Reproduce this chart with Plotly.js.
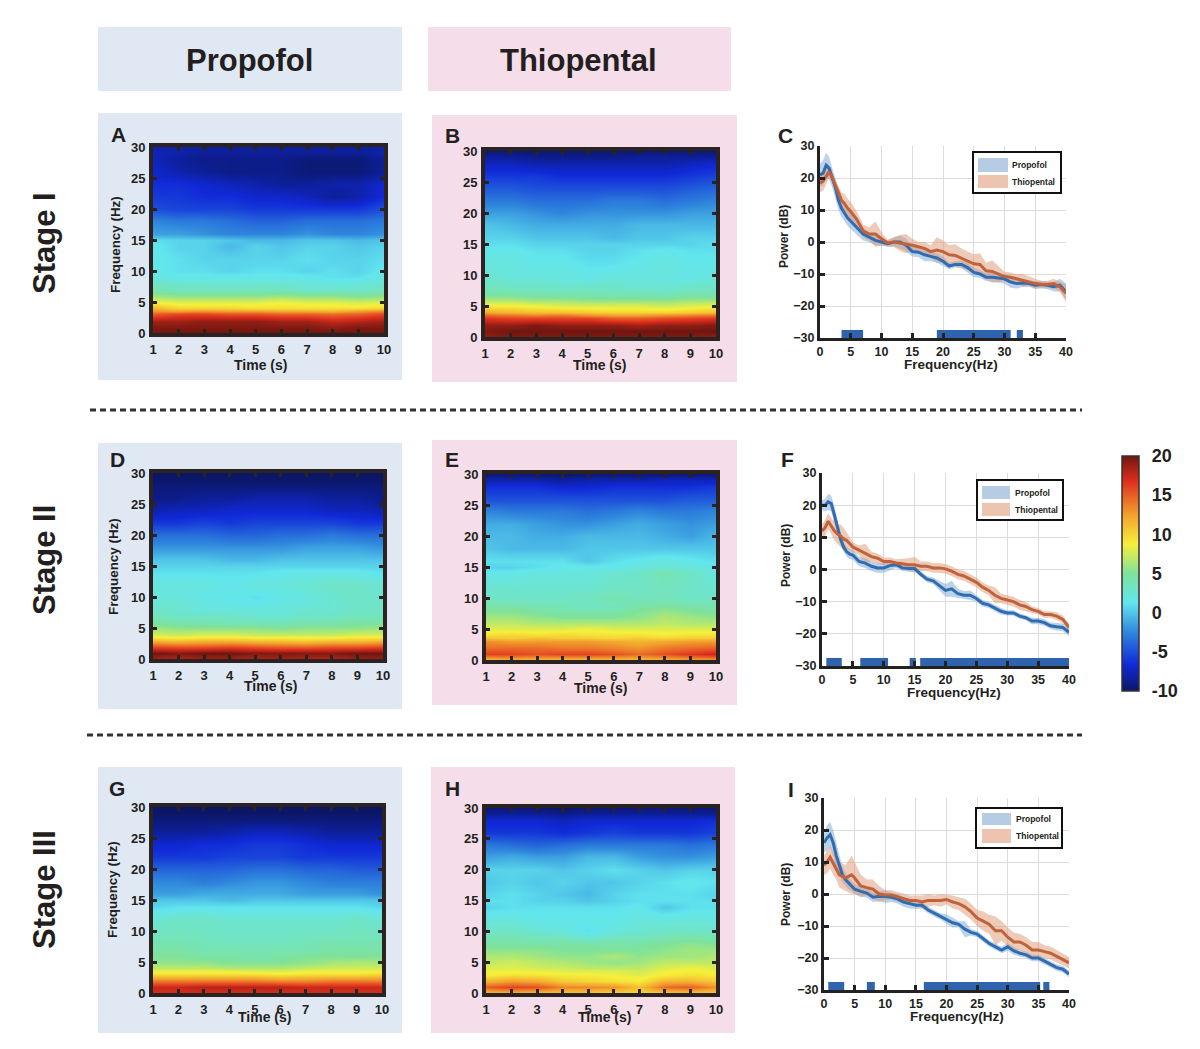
<!DOCTYPE html>
<html><head><meta charset="utf-8">
<script src="https://cdn.plot.ly/plotly-3.0.1.min.js"></script>
<style>html,body{margin:0;padding:0;background:#fff}#chart{width:1200px;height:1049px}</style>
</head><body><div id="chart"></div>
<script>
const timeTicks=[1,2,3,4,5,6,7,8,9,10];
const heatFreqs=[0,1,2,3,3.5,4,5,6,7,8,9,10,12,14,15,16,18,20,22,24,26,28,29,30];
const heatA=[
[20,20,20,20,20,20,20,20,20,20],
[19.5,19.5,19.5,19.5,19.5,19.5,19.5,19,19.5,19.5],
[18.5,18.5,19,19,19,18.5,18.5,17.5,18,18.5],
[15,16,16,15.5,15.5,15,15,14.5,15,16],
[13,12.5,13,12.5,12.5,12,12,11.5,12.5,13.5],
[11.5,10,10,10,9.5,9.5,9.5,9.5,9.5,10],
[8.5,8,8,8,8,8.5,8,8,7.5,8],
[6,5.5,5.5,5.5,5.5,6,5.5,5.5,5,5.5],
[4,3.5,3.5,3.5,3.5,3.5,3,3,3,3.5],
[3,2.5,2.5,2.5,2.5,2.5,2,2,2,2.5],
[2,1.5,1.5,1.5,1.5,1.5,1.5,1,1,2],
[1.5,1,1,0.5,1,1,0.5,1,0.5,1.5],
[1.5,1,0.5,0.5,0.5,0.5,1,0.5,0.5,1],
[1.5,0.5,0.5,-0.5,0.5,0,0.5,0.5,0,0.5],
[1,0.5,0.5,0,-0.5,-0.5,0,0,-0.5,0],
[-1.5,-1.5,-2,-2.5,-2.5,-2.5,-2,-2.5,-2.5,-2],
[-2.5,-3,-3,-3.5,-4,-4,-3.5,-3.5,-3.5,-3],
[-5,-5.5,-5.5,-5.5,-6,-6,-6,-6,-6,-5],
[-6,-6,-6.5,-6.5,-7,-7,-7.5,-8.5,-8,-6.5],
[-6.5,-6.5,-7,-7.5,-8,-8.5,-8.5,-8,-8,-7],
[-7,-8,-8.5,-9,-9,-9,-9.5,-9.5,-9.5,-8.5],
[-7.5,-8.5,-9,-9,-9,-9,-9.5,-9.5,-9.5,-8.5],
[-7.5,-8,-8.5,-8.5,-8.5,-8.5,-8.5,-8.5,-8.5,-8],
[-8,-8,-8.5,-8.5,-8.5,-8.5,-8.5,-8.5,-8.5,-8]];
const heatB=[
[19,19.5,19.5,19.5,19.5,19.5,19.5,19.5,19.5,19],
[19.5,20,20,20,20,20,20,20,20,20],
[19,19,19.5,19,19,19,18.5,19,19,19.5],
[16.5,16,16,16,16,15,15,15.5,16,16.5],
[14.5,14,13.5,14,13,12.5,12.5,13,13.5,14],
[12,11.5,11,11,10.5,10,10,10,10.5,11],
[9,9,8.5,8,8,8,8,7.5,8,8.5],
[6.5,6.5,6,6,5.5,5.5,5.5,5.5,6,6],
[4.5,4.5,4,4,4,3.5,4,3.5,4,4],
[3.5,3,3,3,3,3,2.5,2.5,3,3],
[3,2.5,2.5,2,2,2.5,2,2,2,2.5],
[2.5,2,2,2,1.5,2,2,2,1.5,2],
[2,2,1.5,1.5,1,1,1.5,2,1.5,1.5],
[1.5,1.5,1,1,0.5,0.5,1,1.5,1,1],
[1,1,0.5,0.5,0.5,0.5,0.5,0.5,0.5,1],
[0.5,0.5,0,0,0,-0.5,0,0,0.5,0.5],
[0,-0.5,-1,-1,-1,-1,-0.5,-0.5,-0.5,-0.5],
[-1.5,-1.5,-2,-2.5,-2,-2,-2,-2,-1.5,-1.5],
[-3,-3,-3.5,-3.5,-3.5,-3,-3,-3.5,-3,-2.5],
[-4.5,-4.5,-5,-5,-5,-5,-5,-5,-4.5,-4],
[-6,-6,-6,-6.5,-6.5,-6.5,-6.5,-6.5,-6,-5.5],
[-7.5,-7.5,-8,-8,-8,-8,-8,-8,-7.5,-7],
[-8.5,-8.5,-9,-9,-9,-9,-8.5,-8.5,-8.5,-8.5],
[-9.5,-9.5,-9.5,-9.5,-9.5,-9.5,-9.5,-9.5,-9.5,-9.5]];
const heatD=[
[18.5,18,18.5,18.5,18,18.5,18,18,18.5,19],
[20,19.5,20,20,19.5,19.5,19.5,19.5,20,20],
[16,15.5,15.5,16,15.5,15,15,15.5,15.5,16],
[11,10.5,11,11,10.5,10.5,10,10.5,10.5,11],
[9,8.5,9,9,8.5,8.5,8.5,8.5,9,9],
[7.5,7,7.5,7.5,7,7,7,7,7.5,7.5],
[6,5.5,5.5,5.5,5.5,5,5.5,5.5,5.5,6],
[4.5,4,4,3.5,3.5,3.5,4,4,4.5,4.5],
[3.5,3,3,3,2.5,2.5,3,3,3.5,3.5],
[3,2.5,2,2,2,2,2.5,2.5,3,3],
[2.5,2.5,2,1.5,1.5,2,2,2.5,3,3],
[2,2,1.5,1.5,1,1.5,2,2.5,3,2.5],
[2,2,2,1.5,2,2,2.5,3,3,2.5],
[1,1,1,1,1,1.5,1.5,1.5,1.5,1],
[0.5,0.5,0.5,0.5,0.5,0.5,0.5,0.5,0.5,0.5],
[0,0,0,-0.5,-0.5,0,0,0,0,0],
[-2,-2,-2,-2,-2,-2,-1.5,-1.5,-1.5,-2],
[-3.5,-3.5,-3.5,-4,-4,-3.5,-3.5,-3,-3.5,-3.5],
[-6,-6,-5.5,-6,-5.5,-5.5,-5.5,-5.5,-6,-6],
[-8,-7.5,-7.5,-7,-7,-7,-7,-7.5,-7.5,-8],
[-9,-9,-8.5,-8.5,-8,-8,-8,-8.5,-8.5,-9],
[-9.5,-9.5,-9.5,-9.5,-9.5,-9.5,-9.5,-9.5,-9.5,-9.5],
[-10,-10,-10,-10,-10,-10,-10,-10,-10,-10],
[-10,-10,-10,-10,-10,-10,-10,-10,-10,-10]];
const heatE=[
[11,11.5,11,11,11,11,11,11.5,12,12.5],
[16,16,15.5,16,16,15.5,14.5,15.5,16.5,17.5],
[14.5,14.5,14.5,14,14,13.5,13,14,14.5,15],
[13,12.5,12.5,12.5,12.5,12,11.5,12,12.5,12.5],
[11,10.5,11,10.5,10.5,10,10.5,10,10.5,10.5],
[9.5,10,9.5,10,9.5,9.5,9.5,9,9.5,9.5],
[8,8,8,8,8.5,8,8,8,8,8],
[7,7,6.5,6.5,6.5,6.5,6.5,7,6.5,6.5],
[6,6,5.5,5,5,5,5.5,6.5,6,5.5],
[5,5,4.5,4,4,4,5,5.5,5,4.5],
[4,4,3.5,3.5,3,3.5,4,4.5,4,4],
[3,3,3,3,3.5,4,3.5,3.5,3,3],
[2.5,2.5,2.5,2.5,2.5,3,3,3.5,3,2.5],
[1.5,1.5,2,2,2,2.5,3,4,3,2],
[0.5,0.5,1,1.5,1.5,1.5,2,2.5,2,1.5],
[1,1,1,1,0,1,1.5,2,1.5,1],
[0,-0.5,-0.5,-0.5,0,0,0,0,0,0],
[-0.5,-0.5,-1,-1,-0.5,-0.5,-0.5,-1,-1.5,-0.5],
[-1,-1,-1.5,-2,-2,-1.5,-1,-1.5,-2,-1.5],
[-2.5,-3,-3,-3,-3.5,-3,-2.5,-3,-3,-2.5],
[-5,-5,-5,-5,-5,-5,-5,-5,-4.5,-4.5],
[-6.5,-6.5,-6.5,-7,-7,-6.5,-6.5,-6.5,-6.5,-6],
[-8,-8,-8,-8.5,-8,-8,-8,-7.5,-7.5,-7.5],
[-9.5,-9.5,-9.5,-10,-9.5,-9.5,-9.5,-9.5,-9.5,-9.5]];
const heatG=[
[17,17,17,17,17,17,17,17,17,17],
[17.5,17.5,18,18,18,18,17.5,17.5,17.5,17.5],
[14,14,14,14,14,13.5,13.5,14,14,14],
[9.5,9.5,9.5,9.5,9.5,9,9.5,9.5,9.5,10],
[8.5,8.5,8.5,8.5,8,8,8.5,8.5,8.5,8.5],
[7,7,7,6.5,6.5,6.5,7,7.5,7.5,7.5],
[5.5,5.5,5.5,5,5,5,5.5,6,6.5,6],
[5,5,4.5,4.5,4,4.5,5,5,5,5],
[4.5,4.5,4,4,4,4,4,4.5,4.5,4.5],
[4,4,3.5,3.5,3.5,3.5,3.5,4,4,4],
[3.5,3.5,3.5,3,3,3,3.5,3.5,3.5,3.5],
[3,3.5,3,3,3,3,3,3,3.5,3],
[2.5,3,3,2.5,2.5,2.5,2.5,2.5,3,2.5],
[0.5,1,1,1,1,1,1,1,1,0.5],
[0,0,0,-0.5,0,0,0,0,0,0],
[-1.5,-1.5,-1,-1,-1,-1,-1.5,-1.5,-1.5,-2],
[-2.5,-2.5,-3,-2.5,-2,-2,-2.5,-3,-3,-3],
[-4,-4,-4,-4,-3.5,-3.5,-4,-4,-4.5,-4.5],
[-6,-6,-6,-5.5,-5.5,-5.5,-6,-6,-6,-6],
[-7,-7,-6.5,-6.5,-6,-6,-6.5,-7,-7,-7],
[-8.5,-8.5,-8.5,-8,-7.5,-7.5,-8,-8.5,-8.5,-8.5],
[-9.5,-9.5,-9.5,-9.5,-9.5,-9.5,-9.5,-9.5,-9.5,-9.5],
[-10,-10,-10,-10,-10,-10,-10,-10,-10,-10],
[-10,-10,-10,-10,-10,-10,-10,-10,-10,-10]];
const heatH=[
[11,11.5,11,10.5,10.5,10,10,10.5,10.5,10.5],
[15,16,15.5,13.5,13.5,13,11,14.5,15,13],
[11.5,12.5,12,10.5,10,9.5,9,11.5,11.5,10.5],
[9,9.5,9.5,9,9,8.5,8,9,9.5,9],
[8.5,8.5,8.5,8,8,8,7.5,8.5,9,8.5],
[8,8,7.5,7.5,7,7,7,8,8.5,8],
[7,7.5,7,6.5,6,5.5,6,7,7,7],
[6.5,6.5,6,5.5,5.5,6.5,5.5,6,6,6.5],
[5.5,5.5,5.5,5,5,5,5,5.5,6,6],
[4.5,4.5,4.5,4.5,4.5,4.5,4.5,5,5.5,5],
[4,4,3.5,3.5,2.5,3.5,3.5,4,4.5,4],
[3,3,2.5,2,1,2,2.5,3,3,3],
[2,2,1.5,1.5,1.5,1.5,2,2,2,2],
[0.5,1,1,1,1,1,1.5,0,1,1],
[1,1,0.5,0.5,0,0.5,1,1,1,1],
[0.5,1,0.5,0,-0.5,0.5,1,1,1,0.5],
[0,0.5,0,0.5,0,0,0.5,1,1.5,1],
[0.5,0.5,0.5,0,0.5,1,0.5,0,0.5,0.5],
[-1.5,-1,-1.5,-1.5,-0.5,-0.5,-1.5,-2,-2,-1.5],
[-3,-3.5,-4,-3.5,-3,-3,-3,-3,-3.5,-3],
[-6,-6,-6,-6.5,-6,-5.5,-6,-6,-6,-5.5],
[-7,-7,-7,-7.5,-7,-7,-7,-7,-7,-6.5],
[-8.5,-8.5,-8.5,-9,-8.5,-8.5,-8.5,-8.5,-8.5,-8.5],
[-9.5,-9.5,-9.5,-10,-9.5,-9.5,-9.5,-9.5,-9.5,-9.5]];

const psdFreqs=[0,0.5,1,1.5,2,2.5,3,3.5,4,4.5,5,6,7,8,9,10,11,12,13,14,15,16,17,18,19,20,21,22,23,24,25,26,27,28,29,30,31,32,33,34,35,36,37,38,39,40];
const propC=[21,21.5,24,23,20,17,13,10.5,9,7.5,6.5,4.5,2.5,1.5,0.5,0,-0.5,0,0,-1,-3,-3.2,-4,-4.5,-5,-6,-7.5,-7,-7,-8,-9.5,-10,-11,-11,-11.2,-11.5,-12.5,-13,-12.8,-13,-13.5,-13.3,-13.5,-14,-13.5,-15.5];
const propCErr=[3.5,4,4,3.5,3,3,3,2.8,2.5,2.5,2.5,2.2,2,1.5,1.5,1.2,1,1.5,2,2,1.5,1.5,2,1.5,1.5,1.5,1,1,1.2,1.5,1.5,1.2,1.2,1.5,1.5,1.5,1.8,1.5,1.2,1,1.2,1.2,1.2,1.5,2,2.5];
const thioC=[18.5,19,20.5,22,20,18,15.5,13,12,10.5,9.5,7,3.5,2.5,2.5,1,-0.3,0,-0.3,-0.5,-1,-1.5,-2,-3,-2.5,-3,-4,-4.2,-5,-6,-6.8,-7,-9,-9.2,-10,-10.8,-11,-11.5,-12,-12.3,-13,-13.2,-13.3,-13,-14,-16];
const thioCErr=[3,3,2.5,2,1.5,1.5,2,2.5,3,3,3,2.5,2,2,4,2,1,1.5,2.5,3,2,1.5,2,2,4,3.5,3,3.5,3,3,3,3.5,2.5,3.5,2.5,1.5,1.5,1.5,2,1.5,1.5,1,1.2,1.5,1.5,2.8];
const propF=[20,20,21,20.5,17,13,9.5,7,5.5,4.8,4.5,2.5,2,1,0.5,0.5,1.2,1.5,0.5,0.3,0.3,-1.5,-3,-3.5,-5,-6.5,-6,-7.5,-8,-8,-9,-10.5,-11,-12,-13,-13.5,-13.5,-14.5,-15,-16,-16,-16.5,-17.5,-17.8,-18,-19.5];
const propFErr=[1.5,2,2.5,2.5,2.5,2,2,1.5,1.5,1.5,1.5,1.5,1.5,1.5,1.5,1.5,1.5,1,1,1,1,1,1,1,1.5,2,2.5,1.5,1.2,1.5,1,1,1,1,1,0.8,0.8,0.8,0.8,1,1,1,1,1.2,1.2,1.2];
const thioF=[12,13,15,13.5,12,11,10.5,9.5,9,8,7,6,5,4,3.5,2.5,2.5,2,1.8,1.5,1.5,1,1,0.5,0.5,0.2,-0.5,-1.5,-2,-3,-4,-5.5,-6.5,-8,-9,-9.5,-10,-11,-11.5,-12.5,-13,-14,-14,-14.5,-15.5,-18];
const thioFErr=[2,2.5,2.5,2.5,3,3,3.5,3.5,2.5,2,1.5,1.5,3,1.5,1.5,1.2,1.2,1.2,1.5,2,2.5,1.5,1.5,1.5,1.5,1.5,1.5,1.5,1.5,1.5,1.5,1.5,1.5,2.5,1.5,1.5,1.5,1.5,1.5,1,1,1,1,1.2,1.2,1.2];
const propI=[16,17.5,18.5,16,12,9,6,4.5,3.5,2.5,1.5,0.8,0.3,-1,-0.7,-0.8,-1,-1.5,-2.5,-3,-3.5,-3.5,-5,-6,-7,-7.8,-9,-9.5,-11,-12,-12.5,-14,-15.5,-16.5,-17.5,-16.5,-17.8,-18.5,-19,-20,-20,-21,-22,-23,-23.5,-25];
const propIErr=[3,4,4,4,4,3,2.5,2,2,1.5,1.5,1.5,1.5,1.5,1.5,2,1.5,1.5,1.5,1.5,1.2,1,1,1,1,1.5,1.5,1,2.5,1,1,1,1,1,1,1.2,1.2,1,1,1,1,1,1,1,1,1];
const thioI=[9,10,11.5,9.5,8,6,5.5,5,5.5,6,5,2.5,2,1.5,0,-0.3,-0.3,-0.8,-1.5,-2,-2,-2.5,-2,-2,-2,-1.7,-2.5,-3,-4,-5.5,-7.5,-8.5,-9.5,-11.5,-11.5,-13.5,-15,-15,-16,-17.5,-17.5,-18,-18.5,-19.5,-20.5,-21.5];
const thioIErr=[3,3.5,3.5,3.5,3.5,4,4,4,5,6,5,3.5,2.5,3,2.5,1.5,1.5,1.5,1.5,1.5,1.5,2,2,1.5,2,1.5,2,2,2.5,2.5,2.5,3,3,4.5,3,3,3,2.5,2.5,2.5,2.5,2,2,2,1.8,1.8];
const sigStartC=[3.5,19,32], sigEndC=[7,31,33];
const sigStartF=[0.7,6.2,14.2,15.9], sigEndF=[3.2,10.7,15.2,40];
const sigStartI=[0.7,7,16.3,35.8], sigEndI=[3.3,8.3,35.3,36.8];
const freqTicks=[0,5,10,15,20,25,30,35,40];
const powerTicks=[-30,-20,-10,0,10,20,30];
const specTicks=[0,5,10,15,20,25,30];
const barTicks=[-10,-5,0,5,10,15,20];
const seriesNames=['Propofol','Thiopental'];
const headers=['Propofol','Thiopental'];
const stages=['Stage I','Stage II','Stage III'];

const W=1200,H=1049,FONT='"Liberation Sans",Arial,sans-serif',INK='#231f20';
const px=v=>v/W, py=v=>1-v/H;
const jet=[[0,'#0b1766'],[0.11,'#1029d8'],[0.25,'#2f86dc'],[0.375,'#62e6ee'],[0.5,'#7fe29a'],[0.625,'#f6f03a'],[0.75,'#f2a02e'],[0.89,'#e0301e'],[1,'#701610']];
const BLUEBG='#dfe8f3',PINKBG='#f5dde9';
const heatPanels=[
 {z:heatA,l:153,r:384,t:147,b:333,bg:[98,402,113,380],c:BLUEBG,letter:'A',lp:[118,134],tt:[260,365],yt:[115,245]},
 {z:heatB,l:485,r:716,t:151,b:337,bg:[432,737,115,382],c:PINKBG,letter:'B',lp:[452,135],tt:[599,365]},
 {z:heatD,l:153,r:383,t:473,b:659,bg:[98,402,443,709],c:BLUEBG,letter:'D',lp:[117,459],tt:[270,686],yt:[113,567]},
 {z:heatE,l:486,r:716,t:474,b:660,bg:[432,737,440,705],c:PINKBG,letter:'E',lp:[452,459],tt:[600,688]},
 {z:heatG,l:153,r:382,t:807,b:993,bg:[98,402,767,1033],c:BLUEBG,letter:'G',lp:[117,788],tt:[264,1017],yt:[112,890]},
 {z:heatH,l:486,r:716,t:808,b:993,bg:[431,735,767,1033],c:PINKBG,letter:'H',lp:[452,788],tt:[604,1017]}];
const psdPanels=[
 {p:propC,pe:propCErr,q:thioC,qe:thioCErr,s:sigStartC,e:sigEndC,l:820,r:1066,t:146,b:338,letter:'C',lp:[785,135],tt:[951,365],yt:[784,237],lg:[973,1061,152,193],sw:[978,1008,158,172,175,188],tx:1010},
 {p:propF,pe:propFErr,q:thioF,qe:thioFErr,s:sigStartF,e:sigEndF,l:822,r:1069,t:473,b:666,letter:'F',lp:[787,459],tt:[954,692],yt:[786,556],lg:[977,1063,480,520],sw:[982,1010,486,499,503,516],tx:1013},
 {p:propI,pe:propIErr,q:thioI,qe:thioIErr,s:sigStartI,e:sigEndI,l:824,r:1069,t:798,b:990,letter:'I',lp:[791,789],tt:[957,1016],yt:[786,895],lg:[976,1062,808,848],sw:[982,1011,813,825,829,843],tx:1014}];

const traces=[],shapes=[],annos=[];
const layout={width:W,height:H,margin:{l:0,r:0,t:0,b:0},paper_bgcolor:'#fff',plot_bgcolor:'rgba(0,0,0,0)',showlegend:false,
 font:{family:FONT,color:INK},shapes,annotations:annos,barmode:'overlay'};
const txt=(text,x,y,size,extra={})=>annos.push(Object.assign({text:`<b>${text}</b>`,x:px(x),y:py(y),xref:'paper',yref:'paper',showarrow:false,xanchor:'center',yanchor:'middle',font:{size,color:INK,family:FONT}},extra));
const rect=(x0,x1,y0,y1,fill,line,layer='below')=>shapes.push({type:'rect',xref:'paper',yref:'paper',x0:px(x0),x1:px(x1),y0:py(y0),y1:py(y1),fillcolor:fill,line:line||{width:0},layer});

rect(98,402,27,91,BLUEBG); rect(428,731,27,91,PINKBG);
txt(headers[0],249,60,31); txt(headers[1],578,60,31);
[[44,243],[44,560],[44,890]].forEach((p,i)=>txt(stages[i],p[0],p[1],31,{textangle:-90}));
[[90,1082,410],[87,1082,735]].forEach(d=>shapes.push({type:'line',xref:'paper',yref:'paper',x0:px(d[0]),x1:px(d[1]),y0:py(d[2]),y1:py(d[2]),line:{color:'#333',width:3,dash:'6px,4px'},layer:'below'}));

let n=0;
heatPanels.forEach((h,i)=>{
 n++; const xk='x'+(n>1?n:''),yk='y'+(n>1?n:'');
 rect(h.bg[0],h.bg[1],h.bg[2],h.bg[3],h.c);
 const tr={type:'heatmap',x:timeTicks,y:heatFreqs,z:h.z,xaxis:xk,yaxis:yk,colorscale:jet,zmin:-10,zmax:20,zsmooth:'best',showscale:false,hoverinfo:'skip'};
 if(i===0){tr.showscale=true;tr.colorbar={x:px(1122),xanchor:'left',xpad:0,y:py(456),yanchor:'top',ypad:0,len:235/H,lenmode:'fraction',thickness:17,thicknessmode:'pixels',tickvals:barTicks,ticktext:barTicks.map(String),ticks:'outside',ticklen:9,tickcolor:'rgba(0,0,0,0)',outlinecolor:'#3a3030',outlinewidth:1.5,tickfont:{size:18,family:FONT,weight:'bold',color:INK}};}
 traces.push(tr);
 const ax={showline:true,linecolor:'#2b2322',linewidth:4,mirror:'ticks',ticks:'inside',ticklen:4,tickwidth:3,tickcolor:'#2b2322',showgrid:false,zeroline:false,tickfont:{size:13,family:FONT,weight:'bold',color:INK},ticklabelstandoff:1};
 layout['xaxis'+(n>1?n:'')]=Object.assign({},ax,{domain:[px(h.l),px(h.r)],range:[1,10],tickvals:timeTicks,anchor:yk});
 layout['yaxis'+(n>1?n:'')]=Object.assign({},ax,{domain:[py(h.b),py(h.t)],range:[0,30],tickvals:specTicks,anchor:xk});
 txt(h.letter,h.lp[0],h.lp[1],21);
 txt('Time (s)',h.tt[0],h.tt[1],14);
 if(h.yt) txt('Frequency (Hz)',h.yt[0],h.yt[1],13.4,{textangle:-90});
});
psdPanels.forEach(d=>{
 n++; const xk='x'+n,yk='y'+n;
 const band=(m,e,color)=>traces.push({type:'scatter',mode:'lines',x:psdFreqs.concat(psdFreqs.slice().reverse()),y:m.map((v,i)=>v+e[i]).concat(m.map((v,i)=>v-e[i]).reverse()),fill:'toself',fillcolor:color,line:{width:0},xaxis:xk,yaxis:yk,hoverinfo:'skip'});
 band(d.p,d.pe,'rgba(120,165,215,0.5)'); band(d.q,d.qe,'rgba(222,150,115,0.5)');
 traces.push({type:'scatter',mode:'lines',name:seriesNames[0],x:psdFreqs,y:d.p,line:{color:'#2f6cb0',width:3},xaxis:xk,yaxis:yk});
 traces.push({type:'scatter',mode:'lines',name:seriesNames[1],x:psdFreqs,y:d.q,line:{color:'#c0623a',width:3},xaxis:xk,yaxis:yk});
 traces.push({type:'bar',x:d.s.map((v,i)=>(v+d.e[i])/2),width:d.s.map((v,i)=>d.e[i]-v),y:d.s.map(()=>2.5),base:-30,marker:{color:'#2f63ae',line:{width:0}},xaxis:xk,yaxis:yk,hoverinfo:'skip'});
 const ax={showline:true,linecolor:'#222',linewidth:3,ticks:'inside',ticklen:5,tickwidth:3,tickcolor:'#222',showgrid:true,gridcolor:'#dcdcdc',gridwidth:1,zeroline:false,tickfont:{size:12.5,family:FONT,weight:'bold',color:INK},ticklabelstandoff:0};
 layout['xaxis'+n]=Object.assign({},ax,{domain:[px(d.l),px(d.r)],range:[0,40],tickvals:freqTicks,anchor:yk});
 layout['yaxis'+n]=Object.assign({},ax,{domain:[py(d.b),py(d.t)],range:[-30,30],tickvals:powerTicks,anchor:xk});
 txt(d.letter,d.lp[0],d.lp[1],21);
 txt('Frequency(Hz)',d.tt[0],d.tt[1],13.5);
 txt('Power (dB)',d.yt[0],d.yt[1],12,{textangle:-90});
 rect(d.lg[0],d.lg[1],d.lg[2],d.lg[3],'#fff',{color:'#111',width:2},'above');
 rect(d.sw[0],d.sw[1],d.sw[2],d.sw[3],'#b5cce4',null,'above');
 rect(d.sw[0],d.sw[1],d.sw[4],d.sw[5],'#ecc4b0',null,'above');
 txt(seriesNames[0],d.tx,(d.sw[2]+d.sw[3])/2,8.5,{xanchor:'left'});
 txt(seriesNames[1],d.tx,(d.sw[4]+d.sw[5])/2,8.5,{xanchor:'left'});
});
Plotly.newPlot('chart',traces,layout,{staticPlot:true,displayModeBar:false});
</script></body></html>
